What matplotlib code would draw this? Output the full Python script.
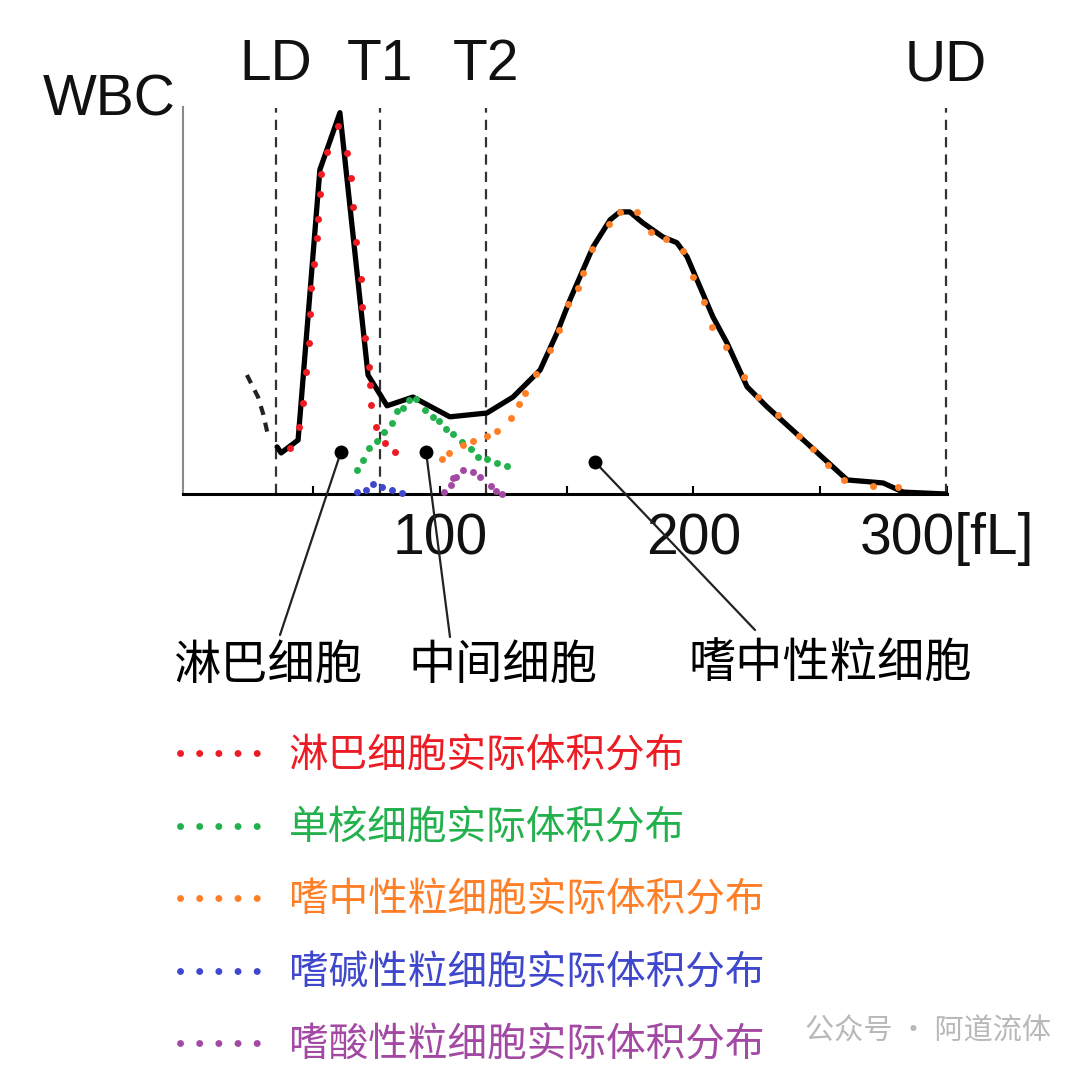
import matplotlib
matplotlib.use("Agg")
import matplotlib.pyplot as plt
from matplotlib.lines import Line2D

plt.rcParams['font.family'] = ['Liberation Sans', 'Noto Sans CJK SC', 'DejaVu Sans']
CJK = ['Noto Sans CJK SC', 'DejaVu Sans']

# ---------------- data (volume fL, relative count) ----------------
total_x = [35.7, 37.3, 44.0, 52.6, 60.5, 71.6, 79.1, 89.3, 103.9, 118.5, 128.8, 139.5,
           146.2, 151.3, 156.4, 160.4, 167.1, 171.0, 174.9, 180.1, 188.0, 193.5, 197.5,
           202.6, 207.7, 213.3, 221.2, 229.1, 242.1, 260.7, 274.9, 282.8, 299.6]
total_y = [12.4, 10.8, 14.2, 85.3, 100.3, 31.3, 23.2, 25.5, 20.3, 21.3, 25.5, 32.6,
           42.4, 51.1, 58.9, 65.0, 72.1, 74.2, 74.2, 71.3, 67.6, 66.1, 62.4,
           54.5, 46.6, 39.7, 28.2, 22.9, 15.0, 3.7, 2.9, 0.5, 0.0]

leadin_x = [23.8, 28.2, 30.2, 32.1]
leadin_y = [31.3, 25.5, 21.1, 15.5]

lymph_x = [40.8, 44.4, 46.0, 47.1, 48.3, 48.7, 49.1, 50.2, 51.5, 51.8, 52.6, 53.0, 55.4,
           59.7, 63.3, 64.9, 65.7, 66.9, 68.8, 69.2, 70.4, 72.0, 72.4, 72.8, 74.7, 78.3, 82.2]
lymph_y = [12.1, 17.6, 23.9, 32.1, 39.7, 47.4, 54.2, 60.5, 67.4, 72.4, 78.9, 84.2, 90.0,
           96.8, 89.7, 83.2, 75.5, 66.3, 56.6, 49.2, 41.1, 33.4, 28.7, 23.4, 17.6, 13.4, 11.1]

mono_x = [67.2, 69.6, 72.0, 75.1, 77.9, 81.1, 83.0, 85.4, 87.8, 90.5, 94.0, 97.2, 99.6,
          102.4, 105.1, 108.7, 112.2, 115.0, 118.5, 122.5, 126.4]
mono_y = [6.3, 8.9, 12.1, 13.9, 16.3, 18.7, 21.8, 22.6, 24.7, 25.0, 22.1, 20.3, 19.2,
          17.1, 15.8, 13.7, 11.8, 9.7, 9.2, 8.2, 7.4]

neut_x = [100.8, 103.5, 109.1, 113.0, 118.5, 122.5, 128.0, 131.2, 133.6, 137.9, 143.4,
          147.0, 150.5, 154.5, 156.4, 160.0, 166.7, 171.0, 177.7, 183.3, 189.2, 195.9,
          199.8, 204.2, 207.3, 212.8, 219.9, 225.5, 233.4, 241.7, 247.2, 253.1, 259.4,
          270.9, 280.7]
neut_y = [9.2, 10.8, 12.9, 13.9, 15.3, 16.6, 20.0, 23.7, 26.6, 31.6, 37.9,
          43.2, 50.0, 54.2, 58.2, 64.5, 71.1, 74.2, 74.2, 68.9, 67.1, 63.9,
          57.1, 50.5, 43.9, 38.7, 30.8, 25.5, 20.8, 15.3, 11.8, 7.6, 3.7,
          2.1, 1.8]

baso_x = [67.2, 70.8, 73.6, 77.1, 81.1, 85.0]
baso_y = [0.5, 1.1, 2.6, 1.8, 1.1, 0.3]

eos_x = [101.6, 104.3, 105.1, 106.3, 109.1, 113.0, 115.8, 120.1, 122.1, 124.5]
eos_y = [0.5, 2.4, 4.2, 4.5, 6.3, 5.8, 4.5, 2.1, 0.8, 0.0]

thresholds = [35.3, 76.3, 118.0, 299.6]
threshold_labels = ['LD', 'T1', 'T2', 'UD']

tick_vals = [50, 100, 150, 200, 250, 300]
tick_labels = ['', '100', '', '200', '', '300[fL]']

callout_x = [60.9, 94.5, 161.2]
callout_y = [11.05, 11.05, 8.4]
callout_labels = ['淋巴细胞', '中间细胞', '嗜中性粒细胞']

series_labels = ['淋巴细胞实际体积分布', '单核细胞实际体积分布', '嗜中性粒细胞实际体积分布',
                 '嗜碱性粒细胞实际体积分布', '嗜酸性粒细胞实际体积分布']
series_colors = ['#ED1C24', '#22B14C', '#FF7F27', '#3F48CC', '#A349A4']

# ---------------- figure ----------------
W, H = 1080, 1076
fig = plt.figure(figsize=(W / 100, H / 100), dpi=100)
fig.patch.set_facecolor('white')

def fx(px):
    return px / W

def fy(py):
    return 1 - py / H

ax = fig.add_axes([fx(183.05), fy(494), fx(947.3) - fx(183.05), (494 - 107) / H])
ax.set_xlim(-1.4, 300.2)
ax.set_ylim(0, 101.8)
ax.patch.set_alpha(0)

for s in ['top', 'right']:
    ax.spines[s].set_visible(False)
ax.spines['left'].set_color('#8a8a8a')
ax.spines['left'].set_linewidth(1.5)
ax.spines['bottom'].set_color('black')
ax.spines['bottom'].set_linewidth(2.2)
ax.set_yticks([])
ax.set_xticks(tick_vals)
ax.set_xticklabels(tick_labels)
ax.tick_params(axis='x', direction='in', length=6, width=1.5, color='black',
               labelsize=41, pad=13, labelcolor='#111111')

# threshold dashed lines and labels
for xv, lab in zip(thresholds, threshold_labels):
    ax.plot([xv, xv], [0, 101.5], color='#333333', lw=1.6, ls=(0, (4.6, 3.2)),
            clip_on=False, zorder=2)
    ax.text(xv, 108.8, lab, ha='center', va='baseline',
            fontsize=41, color='#111111', transform=ax.transData, clip_on=False)

# lead-in dashed segment
ax.plot(leadin_x, leadin_y, color='#222222', lw=3, ls=(0, (2.2, 1.9)), clip_on=False)

# total histogram curve
ax.plot(total_x, total_y, color='black', lw=3.8, solid_joinstyle='round',
        solid_capstyle='round', zorder=3)

# component dots
dot_sets = [(lymph_x, lymph_y), (mono_x, mono_y), (neut_x, neut_y),
            (baso_x, baso_y), (eos_x, eos_y)]
for (xs, ys), c in zip(dot_sets, series_colors):
    ax.plot(xs, ys, ls='none', marker='o', ms=5, color=c, mec='none',
            zorder=4, clip_on=False)

# callouts
label_ends = [(280, 635), (450, 637), (755, 630)]
label_centers = [(268, 666), (503, 666), (830, 664)]
for cx, cy, lab, (ex, ey), (tx, ty) in zip(callout_x, callout_y, callout_labels,
                                          label_ends, label_centers):
    ax.plot([cx], [cy], marker='o', ms=9, color='black', zorder=5)
    ax.annotate('', xy=(cx, cy), xycoords='data',
                xytext=(fx(ex), fy(ey)), textcoords='figure fraction',
                arrowprops=dict(arrowstyle='-', lw=1.6, color='#222222',
                                shrinkA=0, shrinkB=0),
                annotation_clip=False)
    fig.text(fx(tx), fy(ty), lab, ha='center', va='center', fontsize=34,
             family=CJK, color='black')

# WBC label
fig.text(fx(43), fy(115), 'WBC', ha='left', va='baseline', fontsize=41, color='#111111')

# legend
handles = [Line2D([], [], color=c, lw=5, ls=(0, (0.01, 2.75)), dash_capstyle='round')
           for c in series_colors]
leg = fig.legend(handles, series_labels, loc='upper left',
                 bbox_to_anchor=(fx(180), fy(736)), bbox_transform=fig.transFigure,
                 frameon=False, borderpad=0, borderaxespad=0, handlelength=2.0,
                 handletextpad=0.75, labelspacing=0.82, labelcolor='linecolor',
                 prop={'family': CJK, 'size': 28.5})

# watermark
fig.text(fx(805), fy(1032), '公众号 · 阿道流体', ha='left', va='center', fontsize=21,
         family=CJK, color='#b8b8b8')

fig.savefig('out.png', dpi=100, facecolor='white')
